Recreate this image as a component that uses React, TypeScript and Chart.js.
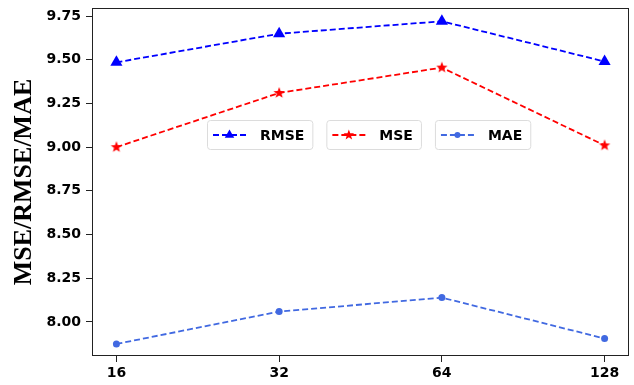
import React, { useEffect, useRef } from "react";
import { Chart, registerables } from "chart.js";

Chart.register(...registerables);

const xLabels = ["16", "32", "64", "128"];
const rmseValues = [9.485, 9.649, 9.72, 9.49];
const mseValues = [9.0, 9.31, 9.455, 9.01];
const maeValues = [7.874, 8.059, 8.139, 7.905];
const yTickValues = [8.0, 8.25, 8.5, 8.75, 9.0, 9.25, 9.5, 9.75];
const yMin = 7.805;
const yMax = 9.796;
const xMin = -0.15;
const xMax = 3.15;

const RMSE_COLOR = "#0000ff";
const MSE_COLOR = "#ff0000";
const MAE_COLOR = "#4169e1";
const TICK_FONT = { family: "'DejaVu Sans', sans-serif", size: 14, weight: "bold" as const };

function starPath(ctx: CanvasRenderingContext2D, cx: number, cy: number, R: number, r: number) {
  ctx.beginPath();
  for (let i = 0; i < 10; i++) {
    const rad = (Math.PI / 5) * i - Math.PI / 2;
    const rr = i % 2 === 0 ? R : r;
    const px = cx + Math.cos(rad) * rr;
    const py = cy + Math.sin(rad) * rr;
    if (i === 0) ctx.moveTo(px, py);
    else ctx.lineTo(px, py);
  }
  ctx.closePath();
}

function makeStar(size: number, R: number, r: number, color: string) {
  const c = document.createElement("canvas");
  c.width = size;
  c.height = size;
  const ctx = c.getContext("2d")!;
  starPath(ctx, size / 2, size / 2, R, r);
  ctx.fillStyle = color;
  ctx.fill();
  return c;
}

function triPath(ctx: CanvasRenderingContext2D, cx: number, cy: number, R: number) {
  ctx.beginPath();
  let rad = 0;
  for (let i = 0; i < 3; i++) {
    const px = cx + Math.sin(rad) * R;
    const py = cy - Math.cos(rad) * R;
    if (i === 0) ctx.moveTo(px, py);
    else ctx.lineTo(px, py);
    rad += (2 * Math.PI) / 3;
  }
  ctx.closePath();
}

const legendItems = [
  { label: "RMSE", color: RMSE_COLOR, marker: "tri" },
  { label: "MSE", color: MSE_COLOR, marker: "star" },
  { label: "MAE", color: MAE_COLOR, marker: "circle" },
];

const boxLegendPlugin = {
  id: "boxLegend",
  afterDatasetsDraw(chart: any) {
    const ctx: CanvasRenderingContext2D = chart.ctx;
    const ca = chart.chartArea;
    let x = ca.left + 115;
    const y = ca.top + 112;
    const h = 29;
    ctx.save();
    ctx.font = "bold 14px 'DejaVu Sans', sans-serif";
    legendItems.forEach((item) => {
      const tw = ctx.measureText(item.label).width;
      const w = 6 + 33 + 14 + tw + 8;
      ctx.beginPath();
      (ctx as any).roundRect(x + 0.5, y + 0.5, w, h, 3);
      ctx.fillStyle = "rgba(255,255,255,0.85)";
      ctx.fill();
      ctx.strokeStyle = "#dcdcdc";
      ctx.lineWidth = 1;
      ctx.stroke();
      const cy = y + h / 2 + 0.5;
      ctx.beginPath();
      ctx.setLineDash([6, 3]);
      ctx.strokeStyle = item.color;
      ctx.lineWidth = 1.8;
      ctx.moveTo(x + 6, cy);
      ctx.lineTo(x + 39, cy);
      ctx.stroke();
      ctx.setLineDash([]);
      const mx = x + 22.5;
      ctx.fillStyle = item.color;
      if (item.marker === "tri") {
        triPath(ctx, mx, cy, 5.5);
        ctx.fill();
      } else if (item.marker === "star") {
        starPath(ctx, mx, cy, 5.5, 2.3);
        ctx.fill();
      } else {
        ctx.beginPath();
        ctx.arc(mx, cy, 3, 0, Math.PI * 2);
        ctx.fill();
      }
      ctx.fillStyle = "#000";
      ctx.textBaseline = "middle";
      ctx.textAlign = "left";
      ctx.fillText(item.label, x + 53, cy + 1);
      x += w + 14;
    });
    ctx.restore();
  },
};

const framePlugin = {
  id: "frame",
  afterDraw(chart: any) {
    const ctx: CanvasRenderingContext2D = chart.ctx;
    const ca = chart.chartArea;
    ctx.save();
    ctx.strokeStyle = "#222";
    ctx.lineWidth = 1;
    ctx.strokeRect(ca.left + 0.5, ca.top + 0.5, ca.right - ca.left - 1, ca.bottom - ca.top - 1);
    ctx.restore();
  },
};

export default function App() {
  const canvasRef = useRef<HTMLCanvasElement | null>(null);

  useEffect(() => {
    if (!canvasRef.current) return;
    const star = makeStar(14, 6.0, 2.5, MSE_COLOR);
    const toPts = (arr: number[]) => arr.map((v, i) => ({ x: i, y: v }));
    const chart = new Chart(canvasRef.current, {
      type: "line",
      data: {
        datasets: [
          {
            label: "RMSE",
            data: toPts(rmseValues),
            borderColor: RMSE_COLOR,
            backgroundColor: RMSE_COLOR,
            borderWidth: 1.8,
            borderDash: [6, 3],
            pointStyle: "triangle",
            pointRadius: 7,
            pointBorderWidth: 0,
            tension: 0,
          },
          {
            label: "MSE",
            data: toPts(mseValues),
            borderColor: MSE_COLOR,
            backgroundColor: MSE_COLOR,
            borderWidth: 1.8,
            borderDash: [6, 3],
            pointStyle: star as any,
            pointRadius: 7,
            tension: 0,
          },
          {
            label: "MAE",
            data: toPts(maeValues),
            borderColor: MAE_COLOR,
            backgroundColor: MAE_COLOR,
            borderWidth: 1.8,
            borderDash: [6, 3],
            pointStyle: "circle",
            pointRadius: 3.5,
            pointBorderWidth: 0,
            tension: 0,
          },
        ],
      },
      options: {
        responsive: false,
        animation: false,
        layout: { autoPadding: false, padding: { top: 8, right: 5, left: 0, bottom: 0 } },
        plugins: {
          legend: { display: false },
          tooltip: { enabled: false },
        },
        scales: {
          x: {
            type: "linear",
            min: xMin,
            max: xMax,
            afterBuildTicks: (scale: any) => {
              scale.ticks = xLabels.map((_, i) => ({ value: i }));
            },
            afterFit: (scale: any) => {
              scale.height = 29;
              scale.paddingLeft = 0;
              scale.paddingRight = 0;
            },
            ticks: {
              callback: (v: any) => xLabels[v] ?? "",
              color: "#000",
              font: TICK_FONT,
              padding: 3,
              maxRotation: 0,
            },
            grid: {
              display: true,
              drawOnChartArea: false,
              drawTicks: true,
              tickLength: 6,
              color: "#222",
            },
            border: { display: false },
          },
          y: {
            type: "linear",
            min: yMin,
            max: yMax,
            afterBuildTicks: (scale: any) => {
              scale.ticks = yTickValues.map((v) => ({ value: v }));
            },
            afterFit: (scale: any) => {
              scale.width = 92;
              scale.paddingTop = 0;
              scale.paddingBottom = 0;
            },
            ticks: {
              callback: (v: any) => Number(v).toFixed(2),
              color: "#000",
              font: TICK_FONT,
              padding: 5,
            },
            grid: {
              display: true,
              drawOnChartArea: false,
              drawTicks: true,
              tickLength: 6,
              color: "#222",
            },
            border: { display: false },
            title: {
              display: true,
              text: "MSE/RMSE/MAE",
              color: "#000",
              font: { family: "'Liberation Serif', serif", size: 26, weight: "bold" },
              padding: { top: 9, bottom: 0 },
            },
          },
        },
      },
      plugins: [boxLegendPlugin, framePlugin],
    } as any);
    return () => chart.destroy();
  }, []);

  return (
    <div style={{ position: "fixed", left: 0, top: 0, width: 634, height: 385, background: "#fff" }}>
      <canvas ref={canvasRef} width={634} height={385} style={{ display: "block" }} />
    </div>
  );
}
